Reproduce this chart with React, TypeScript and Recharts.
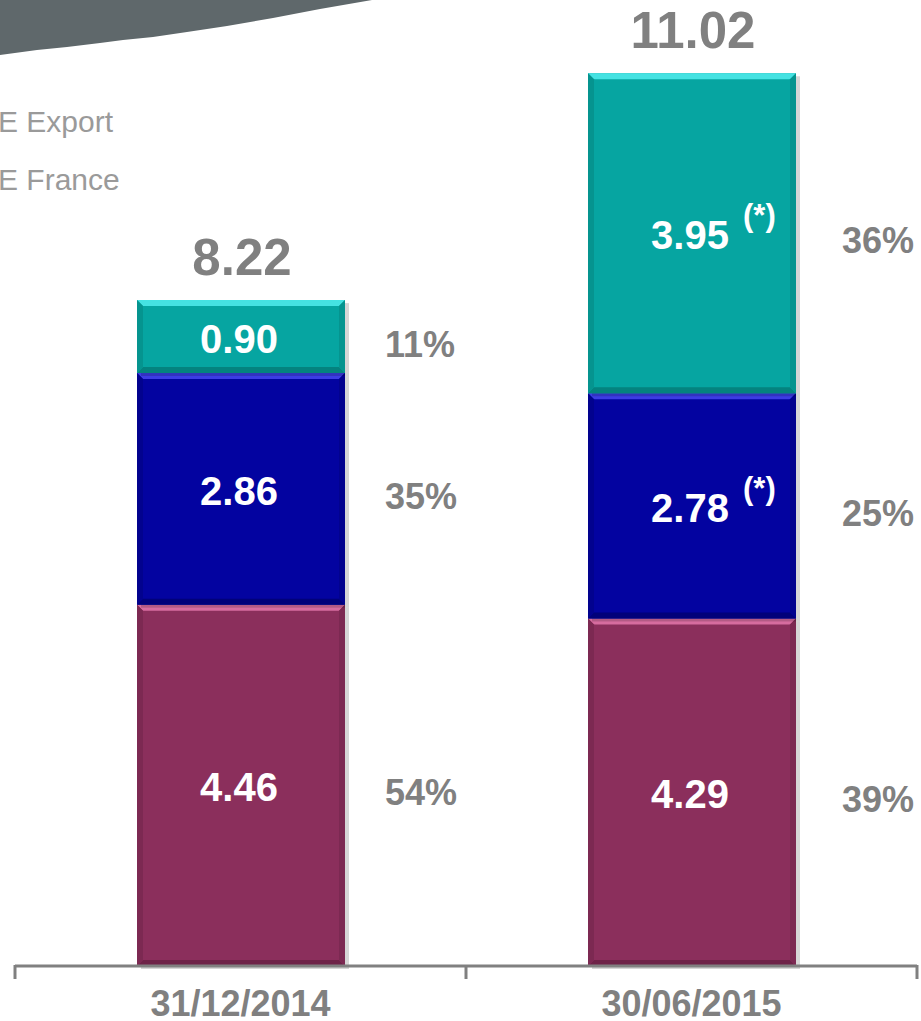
import { BarChart, Bar, XAxis, YAxis, LabelList } from "recharts";

// values
const categories = ["31/12/2014", "30/06/2015"];
const baseValues = [4.46, 4.29];
const franceValues = [2.86, 2.78];
const exportValues = [0.9, 3.95];
const totals = [8.22, 11.02];
const franceNotes = ["", "(*)"];
const exportNotes = ["", "(*)"];
const legendLabels = ["E Export", "E France"];

const data = categories.map((name, i) => ({
  name,
  base: baseValues[i],
  france: franceValues[i],
  export: exportValues[i],
  total: totals[i],
}));

const FONT = '"Liberation Sans", Arial, sans-serif';
const GREY = "#808080";
const W = 921;
const H = 1021;
const MARGIN = { top: 2, right: 4, bottom: 5, left: 15 };
const BAND = (W - MARGIN.left - MARGIN.right) / categories.length;

const PALETTE = {
  base: { main: "#8b2f5c", top: "#d66c9f", side: "#7c2952", bottom: "#6e2348" },
  france: { main: "#0303a0", top: "#3c3ce4", side: "#02028e", bottom: "#01017a" },
  export: { main: "#06a5a1", top: "#45e2e2", side: "#05948f", bottom: "#04837f" },
};

const BevelBar = (props: any) => {
  const { x, y, width, height, pal } = props;
  if (!height || height <= 0) return null;
  const b = 6;
  return (
    <g>
      <rect x={x + 4} y={y + 3} width={width} height={height} fill="#000" opacity={0.16} />
      <rect x={x} y={y} width={width} height={height} fill={pal.main} />
      <polygon
        points={`${x},${y} ${x + width},${y} ${x + width - b},${y + b} ${x + b},${y + b}`}
        fill={pal.top}
      />
      <polygon
        points={`${x},${y + height} ${x + width},${y + height} ${x + width - b},${y + height - b} ${x + b},${y + height - b}`}
        fill={pal.bottom}
      />
      <polygon
        points={`${x},${y} ${x + b},${y + b} ${x + b},${y + height - b} ${x},${y + height}`}
        fill={pal.side}
      />
      <polygon
        points={`${x + width},${y} ${x + width - b},${y + b} ${x + width - b},${y + height - b} ${x + width},${y + height}`}
        fill={pal.side}
      />
    </g>
  );
};

const valueLabel = (notes: string[] | null) => (props: any) => {
  const { x, y, width, height, value, index } = props;
  const cx = x + width / 2 - 2;
  const base = y + height / 2 + 16;
  const note = notes ? notes[index] : "";
  return (
    <g fontFamily={FONT} fontWeight="bold" fill="#fff">
      <text x={cx} y={base} textAnchor="middle" fontSize={40}>
        {value.toFixed(2)}
      </text>
      {note && (
        <text x={cx + 53} y={base - 23} fontSize={31}>
          {note}
        </text>
      )}
    </g>
  );
};

const percentLabel = (props: any) => {
  const { x, y, width, height, value, index } = props;
  const pct = Math.round((value / totals[index]) * 100);
  return (
    <text
      x={x + width + 40 + index * 6}
      y={y + height / 2 + 20}
      fontFamily={FONT}
      fontWeight="bold"
      fontSize={36}
      fill={GREY}
    >
      {pct}%
    </text>
  );
};

const totalLabel = (props: any) => {
  const { x, y, width, index } = props;
  return (
    <text
      x={x + width / 2 + 1}
      y={y - 25}
      textAnchor="middle"
      fontFamily={FONT}
      fontWeight="bold"
      fontSize={51}
      fill={GREY}
    >
      {totals[index].toFixed(2)}
    </text>
  );
};

const AxisTick = (props: any) => {
  const { x, y, payload, index } = props;
  const half = BAND / 2;
  return (
    <g>
      <line x1={x - half} y1={y - 1} x2={x - half} y2={y + 13} stroke={GREY} strokeWidth={3} />
      {index === categories.length - 1 && (
        <line x1={x + half} y1={y - 1} x2={x + half} y2={y + 13} stroke={GREY} strokeWidth={3} />
      )}
      <text
        x={x}
        y={y + 50}
        textAnchor="middle"
        fontFamily={FONT}
        fontWeight="bold"
        fontSize={36}
        fill={GREY}
      >
        {payload.value}
      </text>
    </g>
  );
};

export default function App() {
  return (
    <div style={{ position: "absolute", left: 0, top: 0, width: W, height: H, background: "#fff", overflow: "hidden" }}>
      <svg width={W} height={H} style={{ position: "absolute", left: 0, top: 0 }}>
        <polygon
          points="0,0 372,0 320,9 273,18 227,26 187,32 153,37 123,40 100,43 67,47 37,50 0,55"
          fill="#5f686b"
        />
        {legendLabels.map((t, i) => (
          <text key={t} x={-2} y={132 + i * 58} fontFamily={FONT} fontSize={30} fill="#9a9a9a">
            {t}
          </text>
        ))}
      </svg>
      <div style={{ position: "absolute", left: 0, top: 0 }}>
        <BarChart width={W} height={H} data={data} margin={MARGIN} barSize={208}>
          <YAxis hide domain={[0, 11.9]} />
          <XAxis
            dataKey="name"
            height={50}
            tickSize={0}
            tickMargin={0}
            tickLine={false}
            axisLine={{ stroke: GREY, strokeWidth: 3 }}
            tick={<AxisTick />}
            interval={0}
          />
          <Bar dataKey="base" stackId="s" isAnimationActive={false} shape={(p: any) => <BevelBar {...p} pal={PALETTE.base} />}>
            <LabelList dataKey="base" content={valueLabel(null)} />
            <LabelList dataKey="base" content={percentLabel} />
          </Bar>
          <Bar dataKey="france" stackId="s" isAnimationActive={false} shape={(p: any) => <BevelBar {...p} pal={PALETTE.france} />}>
            <LabelList dataKey="france" content={valueLabel(franceNotes)} />
            <LabelList dataKey="france" content={percentLabel} />
          </Bar>
          <Bar dataKey="export" stackId="s" isAnimationActive={false} shape={(p: any) => <BevelBar {...p} pal={PALETTE.export} />}>
            <LabelList dataKey="export" content={valueLabel(exportNotes)} />
            <LabelList dataKey="export" content={percentLabel} />
            <LabelList dataKey="total" content={totalLabel} />
          </Bar>
        </BarChart>
      </div>
    </div>
  );
}
